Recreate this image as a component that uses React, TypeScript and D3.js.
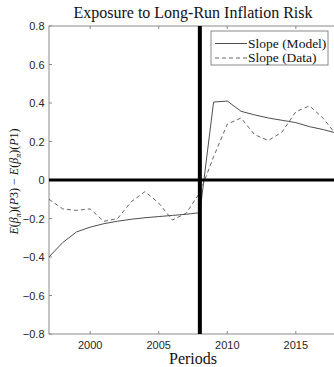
import React, { useEffect, useRef } from 'react'
import * as d3 from 'd3'

// Data
const years = [1997, 1998, 1999, 2000, 2001, 2002, 2003, 2004, 2005, 2006, 2007, 2008,
  2009, 2010, 2011, 2012, 2013, 2014, 2015, 2016, 2017, 2018]
const slopeModel = [-0.40, -0.325, -0.27, -0.245, -0.227, -0.214, -0.204, -0.196, -0.19, -0.184, -0.178, -0.17,
  0.405, 0.41, 0.357, 0.338, 0.322, 0.31, 0.298, 0.277, 0.262, 0.243]
const slopeData = [-0.10, -0.15, -0.158, -0.15, -0.215, -0.2, -0.113, -0.06, -0.12, -0.208, -0.173, -0.065,
  0.12, 0.29, 0.322, 0.235, 0.205, 0.25, 0.355, 0.385, 0.32, 0.23]
const xTicks = [2000, 2005, 2010, 2015]
const yTicks = [-0.8, -0.6, -0.4, -0.2, 0, 0.2, 0.4, 0.6, 0.8]
const breakYear = 2008
const legendLabels = ['Slope (Model)', 'Slope (Data)']

const W = 334
const H = 367

export default function App() {
  const ref = useRef<SVGSVGElement | null>(null)

  useEffect(() => {
    const svg = d3.select(ref.current)
    svg.selectAll('*').remove()

    const left = 49
    const right = 337
    const top = 26
    const bottom = 334

    const x = d3.scaleLinear().domain([1997, 2018]).range([left, right])
    const y = d3.scaleLinear().domain([-0.8, 0.8]).range([bottom, top])

    const axisColor = '#8a8a8a'
    const tickFont = 'Liberation Sans, Arial, sans-serif'
    const serif = 'Liberation Serif, Times New Roman, serif'

    // axes box
    const g = svg.append('g')
    g.append('rect')
      .attr('x', left).attr('y', top)
      .attr('width', right - left).attr('height', bottom - top)
      .attr('fill', 'white').attr('stroke', axisColor).attr('stroke-width', 1)

    // ticks (inward)
    xTicks.forEach(t => {
      g.append('line').attr('x1', x(t)).attr('x2', x(t)).attr('y1', bottom).attr('y2', bottom - 3)
        .attr('stroke', axisColor)
      g.append('line').attr('x1', x(t)).attr('x2', x(t)).attr('y1', top).attr('y2', top + 3)
        .attr('stroke', axisColor)
      g.append('text').attr('x', x(t)).attr('y', 349)
        .attr('text-anchor', 'middle').attr('font-family', tickFont).attr('font-size', 11)
        .attr('fill', '#262626').text(String(t))
    })
    yTicks.forEach(t => {
      g.append('line').attr('x1', left).attr('x2', left + 3).attr('y1', y(t)).attr('y2', y(t))
        .attr('stroke', axisColor)
      g.append('text').attr('x', 44.5).attr('y', y(t) + 4)
        .attr('text-anchor', 'end').attr('font-family', tickFont).attr('font-size', 11)
        .attr('fill', '#262626').text(t === 0 ? '0' : d3.format('.1f')(t))
    })

    // series
    const line = d3.line<number>()
      .x((d, i) => x(years[i]))
      .y(d => y(d))

    g.append('path').datum(slopeModel).attr('d', line)
      .attr('fill', 'none').attr('stroke', '#3a3a3a').attr('stroke-width', 0.9)
    g.append('path').datum(slopeData).attr('d', line)
      .attr('fill', 'none').attr('stroke', '#555').attr('stroke-width', 0.9)
      .attr('stroke-dasharray', '4,3')

    // reference lines
    g.append('line').attr('x1', left).attr('x2', right).attr('y1', y(0)).attr('y2', y(0))
      .attr('stroke', 'black').attr('stroke-width', 3)
    g.append('line').attr('x1', x(breakYear)).attr('x2', x(breakYear)).attr('y1', top).attr('y2', bottom)
      .attr('stroke', 'black').attr('stroke-width', 4)

    // legend
    const lg = svg.append('g')
    lg.append('rect').attr('x', 211).attr('y', 31).attr('width', 117).attr('height', 34)
      .attr('fill', 'white').attr('stroke', axisColor).attr('stroke-width', 1)
    legendLabels.forEach((lab, i) => {
      const ly = 43.5 + i * 14.5
      lg.append('line').attr('x1', 215).attr('x2', 247).attr('y1', ly).attr('y2', ly)
        .attr('stroke', i === 0 ? '#3a3a3a' : '#555').attr('stroke-width', 0.9)
        .attr('stroke-dasharray', i === 0 ? null : '4,3')
      lg.append('text').attr('x', 248).attr('y', ly + 4)
        .attr('font-family', serif).attr('font-size', 13.5).attr('fill', '#111').text(lab)
    })

    // title
    svg.append('text').attr('x', 193).attr('y', 18).attr('text-anchor', 'middle')
      .attr('font-family', serif).attr('font-size', 16).attr('fill', '#111')
      .text('Exposure to Long-Run Inflation Risk')

    // x label
    svg.append('text').attr('x', 193).attr('y', 364).attr('text-anchor', 'middle')
      .attr('font-family', serif).attr('font-size', 16).attr('fill', '#111')
      .text('Periods')

    // y label
    const yl = svg.append('text')
      .attr('transform', `translate(18, 181.5) rotate(-90)`)
      .attr('text-anchor', 'middle')
      .attr('font-family', serif).attr('font-size', 12).attr('fill', '#111')
    const part = (s: string, italic: boolean, sub = false) => {
      const t = yl.append('tspan').text(s).attr('font-style', italic ? 'italic' : 'normal')
      if (sub) t.attr('font-size', 8).attr('dy', 3)
      return t
    }
    part('E', true)
    part('(', false)
    part('β', true)
    part('π', true, true)
    part(')(', false).attr('dy', -3)
    part('P', true)
    part('3) − ', false)
    part('E', true)
    part('(', false)
    part('β', true)
    part('π', true, true)
    part(')(', false).attr('dy', -3)
    part('P', true)
    part('1)', false)
  }, [])

  return (
    <svg ref={ref} width={W} height={H}
      style={{ position: 'absolute', left: 0, top: 0, background: 'white' }} />
  )
}
